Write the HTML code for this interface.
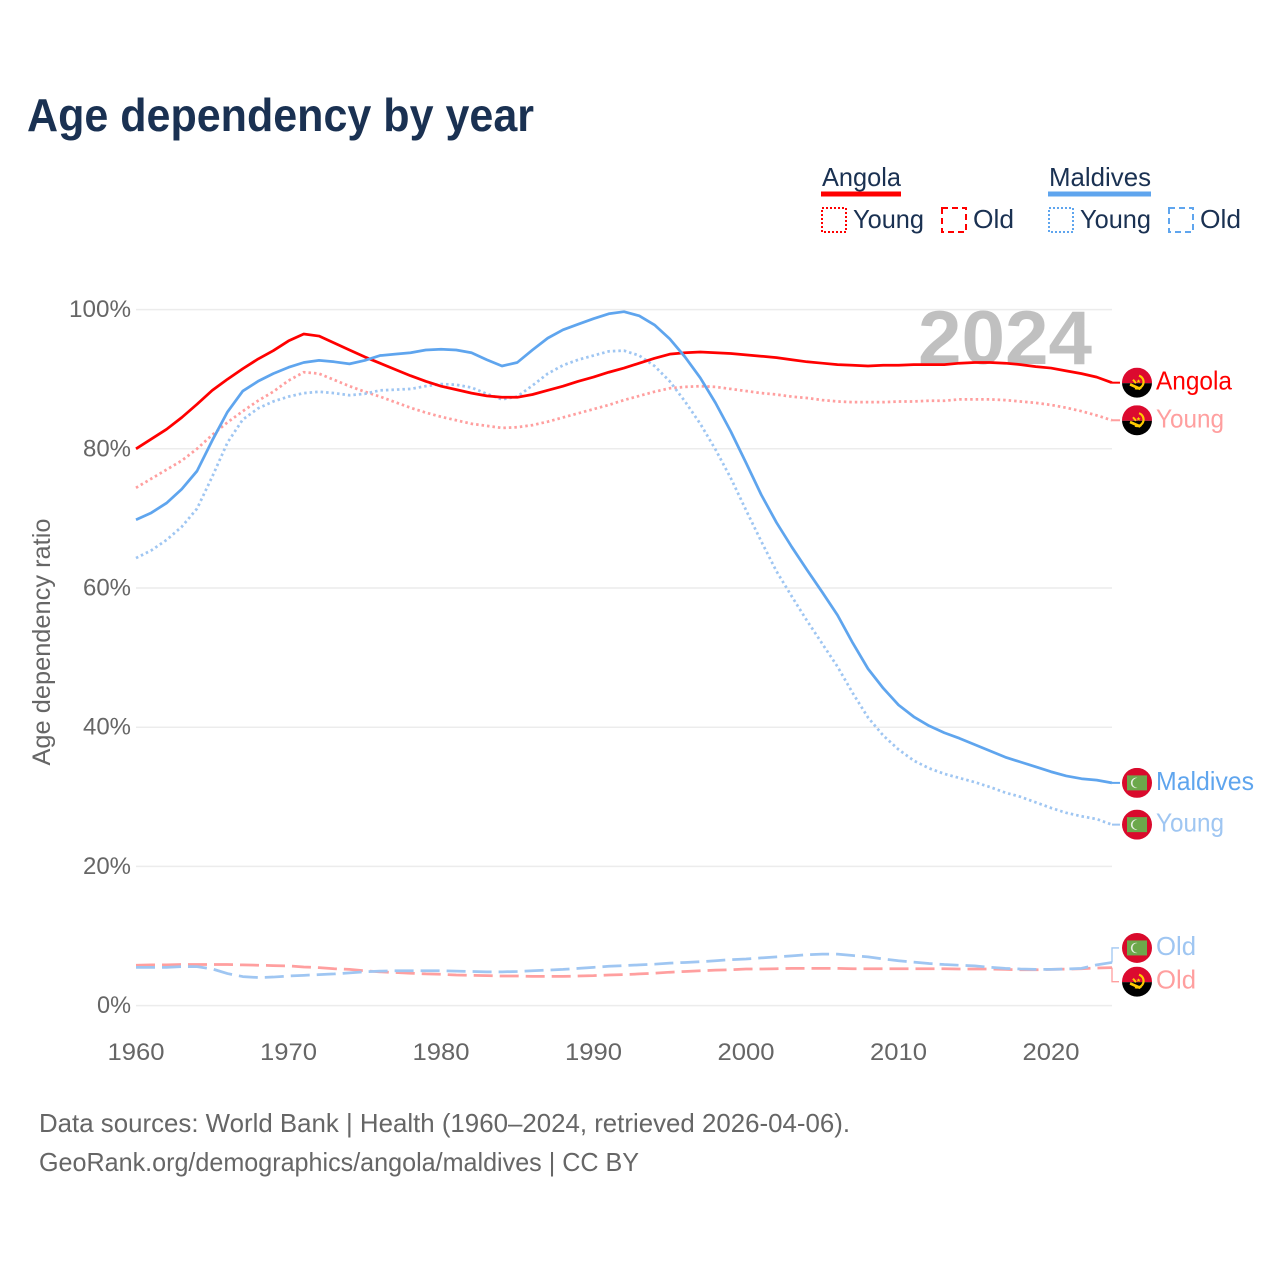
<!DOCTYPE html>
<html lang="en">
<head>
<meta charset="utf-8">
<title>Age dependency by year</title>
<style>
html,body{margin:0;padding:0;background:#fff;}
svg{display:block;font-family:"Liberation Sans",sans-serif;}
</style>
</head>
<body>
<svg id="chart" xmlns="http://www.w3.org/2000/svg" width="1280" height="1280" viewBox="0 0 1280 1280">
  <defs>
    <clipPath id="flag-clip"><circle cx="0" cy="0" r="15"/></clipPath>
    <symbol id="flag-angola" viewBox="-15 -15 30 30" overflow="visible">
      <g clip-path="url(#flag-clip)">
        <rect x="-15" y="-15" width="30" height="15.500" fill="#dc0a2f"/>
        <rect x="-15" y="0.500" width="30" height="15" fill="#000"/>
        <path d="M2,-7 A6.500,6.500 0 0 1 -2,5.500" fill="none" stroke="#ffcb00" stroke-width="2.200"/>
        <path d="M-6.500,0.500 L5,5.500 L2.500,7.500 L-7.500,3 Z" fill="#ffcb00"/>
        <path d="M-4,-3 L-1,0.500" stroke="#ffcb00" stroke-width="2" fill="none"/>
        <path d="M-1,-5 l1,-2 l1,2 l2,0 l-1.600,1.300 l.6,2 l-2,-1.200 l-2,1.200 l.6,-2 l-1.600,-1.300 Z" fill="#ffcb00" transform="translate(1.500 1.500) scale(.7)"/>
      </g>
    </symbol>
    <symbol id="flag-maldives" viewBox="-15 -15 30 30" overflow="visible">
      <g clip-path="url(#flag-clip)">
        <rect x="-15" y="-15" width="30" height="30" fill="#d90a2c"/>
        <rect x="-10" y="-7.500" width="20" height="15" fill="#6ca84b"/>
        <path d="M0.500,-5 A5.200,5.200 0 1 0 0.500,5 A4.300,4.300 0 1 1 0.500,-5 Z" fill="#e6eee0"/>
      </g>
    </symbol>
  </defs>

  <rect x="0" y="0" width="1280" height="1280" fill="#fff"/>

  <text x="27" y="131" font-size="46" font-weight="700" fill="#1a3152" textLength="507" lengthAdjust="spacingAndGlyphs">Age dependency by year</text>

  <g font-size="26" fill="#1a3152">
    <text x="822" y="186" textLength="79" lengthAdjust="spacingAndGlyphs">Angola</text>
    <rect x="821" y="191.500" width="80" height="5" fill="#ff0000"/>
    <rect x="822" y="208" width="24" height="24" fill="none" stroke="#ff0000" stroke-width="2" stroke-dasharray="2 2"/>
    <text x="853" y="228" textLength="71" lengthAdjust="spacingAndGlyphs">Young</text>
    <rect x="942" y="208" width="24" height="24" fill="none" stroke="#ff0000" stroke-width="2" stroke-dasharray="6 4"/>
    <text x="973" y="228" textLength="41" lengthAdjust="spacingAndGlyphs">Old</text>

    <text x="1049" y="186" textLength="102" lengthAdjust="spacingAndGlyphs">Maldives</text>
    <rect x="1048" y="191.500" width="103" height="5" fill="#5fa5ee"/>
    <rect x="1049" y="208" width="24" height="24" fill="none" stroke="#5fa5ee" stroke-width="2" stroke-dasharray="2 2"/>
    <text x="1080" y="228" textLength="71" lengthAdjust="spacingAndGlyphs">Young</text>
    <rect x="1169" y="208" width="24" height="24" fill="none" stroke="#5fa5ee" stroke-width="2" stroke-dasharray="6 4"/>
    <text x="1200" y="228" textLength="41" lengthAdjust="spacingAndGlyphs">Old</text>
  </g>

  <g id="grid"></g>
  <text x="918" y="364" font-size="76" font-weight="700" fill="#c0c0c0" textLength="174" lengthAdjust="spacingAndGlyphs">2024</text>
  <g id="y-ticks" font-size="24" fill="#666"></g>
  <g id="x-ticks" font-size="24" fill="#666"></g>
  <text transform="translate(50 642) rotate(-90)" text-anchor="middle" font-size="25" fill="#666" textLength="247" lengthAdjust="spacingAndGlyphs">Age dependency ratio</text>

  <g id="series"></g>
  <g id="end-labels"></g>

  <g font-size="26" fill="#666">
    <text x="39" y="1132" textLength="811" lengthAdjust="spacingAndGlyphs">Data sources: World Bank | Health (1960–2024, retrieved 2026-04-06).</text>
    <text x="39" y="1171" textLength="600" lengthAdjust="spacingAndGlyphs">GeoRank.org/demographics/angola/maldives | CC BY</text>
  </g>
</svg>

<script>
const firstYear = 1960;
const xTickLabels = [1960, 1970, 1980, 1990, 2000, 2010, 2020];
const yTickLabels = [0, 20, 40, 60, 80, 100];

const angolaTotal = [80.0,81.4,82.8,84.5,86.4,88.4,90.0,91.5,92.9,94.1,95.5,96.5,96.2,95.2,94.2,93.2,92.3,91.4,90.5,89.7,89.0,88.5,88.0,87.6,87.4,87.4,87.8,88.4,89.0,89.7,90.3,91.0,91.6,92.3,93.0,93.6,93.8,93.9,93.8,93.7,93.5,93.3,93.1,92.8,92.5,92.3,92.1,92.0,91.9,92.0,92.0,92.1,92.1,92.1,92.3,92.4,92.4,92.3,92.1,91.8,91.6,91.2,90.8,90.3,89.5];
const angolaYoung = [74.4,75.7,77.0,78.3,80.0,82.0,83.8,85.4,86.9,88.2,89.8,91.0,90.8,89.9,89.0,88.2,87.5,86.7,85.9,85.2,84.6,84.1,83.6,83.3,83.0,83.1,83.4,83.9,84.5,85.1,85.7,86.3,87.0,87.6,88.2,88.7,88.9,89.0,88.9,88.6,88.3,88.0,87.8,87.5,87.3,87.0,86.8,86.7,86.7,86.7,86.8,86.8,86.9,86.9,87.1,87.1,87.1,87.0,86.8,86.6,86.3,85.9,85.4,84.8,84.1];
const angolaOld = [5.8,5.85,5.85,5.9,5.9,5.9,5.9,5.85,5.8,5.75,5.7,5.55,5.45,5.3,5.2,5.0,4.85,4.75,4.65,4.55,4.5,4.4,4.35,4.3,4.25,4.25,4.2,4.2,4.2,4.25,4.3,4.4,4.45,4.55,4.65,4.8,4.9,5.0,5.1,5.15,5.25,5.25,5.3,5.35,5.35,5.35,5.35,5.3,5.3,5.3,5.3,5.3,5.3,5.3,5.25,5.25,5.25,5.2,5.15,5.15,5.2,5.25,5.3,5.4,5.45];

const maldivesTotal = [69.8,70.8,72.2,74.2,76.8,81.2,85.3,88.3,89.7,90.8,91.7,92.4,92.7,92.5,92.2,92.7,93.4,93.6,93.8,94.2,94.3,94.2,93.8,92.8,91.9,92.4,94.2,95.9,97.1,97.9,98.7,99.4,99.7,99.1,97.8,95.8,93.2,90.2,86.6,82.5,78.0,73.4,69.4,65.9,62.6,59.4,56.1,52.1,48.4,45.6,43.2,41.5,40.2,39.2,38.4,37.5,36.6,35.7,35.0,34.3,33.6,33.0,32.6,32.4,32.0];
const maldivesYoung = [64.3,65.4,66.9,68.8,71.4,76.0,80.9,84.2,85.8,86.8,87.5,88.0,88.2,88.0,87.7,87.9,88.4,88.5,88.6,89.0,89.3,89.2,88.8,87.9,87.1,87.5,89.1,90.8,92.0,92.8,93.4,94.0,94.1,93.4,91.9,89.7,86.8,83.6,79.9,75.8,71.2,66.7,62.4,58.8,55.3,52.0,48.7,44.9,41.4,38.8,36.8,35.2,34.1,33.3,32.7,32.1,31.4,30.6,30.0,29.2,28.4,27.7,27.2,26.8,26.0];
const maldivesOld = [5.5,5.5,5.5,5.6,5.6,5.27,4.6,4.17,4.03,4.1,4.25,4.35,4.45,4.55,4.7,4.85,4.95,5.0,5.0,5.0,5.0,4.95,4.9,4.85,4.85,4.9,5.0,5.1,5.2,5.35,5.5,5.65,5.75,5.85,5.95,6.1,6.2,6.3,6.45,6.6,6.7,6.85,7.0,7.15,7.3,7.4,7.4,7.2,7.0,6.7,6.45,6.25,6.05,5.9,5.8,5.7,5.5,5.35,5.25,5.2,5.2,5.25,5.35,5.85,6.2];

const seriesNames = ['angola-old','maldives-old','angola-young','maldives-young','angola-total','maldives-total'];
const seriesValues = [angolaOld, maldivesOld, angolaYoung, maldivesYoung, angolaTotal, maldivesTotal];
const seriesColors = ['#ff9f9f','#9fc6f2','#ff9f9f','#9fc6f2','#ff0000','#5fa5ee'];
const seriesDashes = ['19 7','19 7','2.5 3','2.5 3','none','none'];

const labelNames = ['Angola','Young','Maldives','Young','Old','Old'];
const labelWidths = [76,68,98,68,40,40];
const labelSeries = [4,2,5,3,1,0];
const labelFlags = ['angola','angola','maldives','maldives','maldives','angola'];
const labelNudges = [0,0,0,0,-14.5,14];

const NS = 'http://www.w3.org/2000/svg';
const plotLeft = 136, pxPerYear = 15.25, plotRight = 1112, yZero = 1005.6, pxPerPct = 6.96;
const xScale = function (year) { return plotLeft + (year - firstYear) * pxPerYear; };
const yScale = function (pct) { return yZero - pct * pxPerPct; };
const make = function (tag, parent) { const el = document.createElementNS(NS, tag); parent.appendChild(el); return el; };

const gridG = document.getElementById('grid');
const yTicksG = document.getElementById('y-ticks');
yTickLabels.forEach(function (v) {
  const line = make('line', gridG);
  
  
  line.setAttribute('x1', plotLeft); line.setAttribute('x2', plotRight);
  line.setAttribute('y1', yScale(v)); line.setAttribute('y2', yScale(v));
  line.setAttribute('stroke', '#ececec'); line.setAttribute('stroke-width', '1.5');
  const t = make('text', yTicksG);
  
  
  t.setAttribute('x', 131); t.setAttribute('y', yScale(v) + 7.5);
  t.setAttribute('text-anchor', 'end');
  const w = v === 100 ? 62 : (v === 0 ? 34 : 48);
  t.setAttribute('textLength', w); t.setAttribute('lengthAdjust', 'spacingAndGlyphs');
  t.textContent = v + '%';
});

const xTicksG = document.getElementById('x-ticks');
xTickLabels.forEach(function (yr) {
  const t = make('text', xTicksG);
  
  
  t.setAttribute('x', xScale(yr)); t.setAttribute('y', 1060);
  t.setAttribute('text-anchor', 'middle');
  t.setAttribute('textLength', 57); t.setAttribute('lengthAdjust', 'spacingAndGlyphs');
  t.textContent = yr;
});

const seriesG = document.getElementById('series');
seriesValues.forEach(function (vals, i) {
  const d = vals.map(function (v, k) { return (k ? 'L' : 'M') + xScale(firstYear + k).toFixed(2) + ',' + yScale(v).toFixed(2); }).join(' ');
  const p = make('path', seriesG);
  
  
  p.setAttribute('d', d);
  p.setAttribute('fill', 'none');
  p.setAttribute('stroke', seriesColors[i]);
  p.setAttribute('stroke-width', '2.75');
  p.setAttribute('stroke-linejoin', 'round');
  if (seriesDashes[i] !== 'none') p.setAttribute('stroke-dasharray', seriesDashes[i]);
});

const labelsG = document.getElementById('end-labels');
labelNames.forEach(function (name, i) {
  const s = labelSeries[i];
  const vals = seriesValues[s];
  const endY = yScale(vals[vals.length - 1]);
  const y = endY + labelNudges[i];
  const conn = make('path', labelsG);
  
  
  const big = Math.abs(labelNudges[i]) > 2;
  conn.setAttribute('d', big
    ? 'M' + plotRight + ',' + endY + ' V' + y + ' H1119'
    : 'M' + plotRight + ',' + endY + ' L1120,' + y);
  conn.setAttribute('fill', 'none');
  conn.setAttribute('stroke', seriesColors[s]);
  conn.setAttribute('stroke-width', big ? '1.3' : '2');
  const flag = make('use', labelsG);
  
  
  flag.setAttribute('href', '#flag-' + labelFlags[i]);
  flag.setAttribute('x', 1122); flag.setAttribute('y', y - 15);
  flag.setAttribute('width', 30); flag.setAttribute('height', 30);
  const t = make('text', labelsG);
  
  
  t.setAttribute('x', 1156); t.setAttribute('y', y + 7);
  t.setAttribute('font-size', '26');
  t.setAttribute('fill', seriesColors[s]);
  t.setAttribute('textLength', labelWidths[i]);
  t.setAttribute('lengthAdjust', 'spacingAndGlyphs');
  t.textContent = name;
});
</script>
</body>
</html>
